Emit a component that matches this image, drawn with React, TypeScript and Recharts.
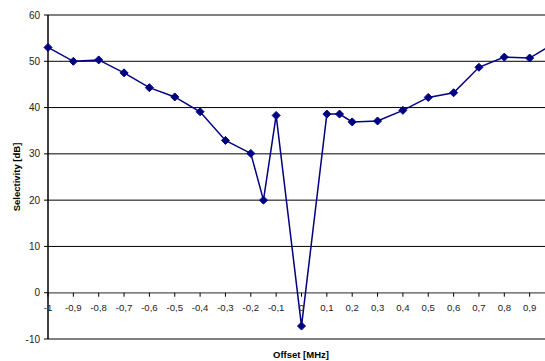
import {
  LineChart,
  Line,
  XAxis,
  YAxis,
  CartesianGrid,
  ReferenceLine,
} from "recharts";

const offsets = [
  -1, -0.9, -0.8, -0.7, -0.6, -0.5, -0.4, -0.3, -0.2, -0.15, -0.1, 0, 0.1, 0.15,
  0.2, 0.3, 0.4, 0.5, 0.6, 0.7, 0.8, 0.9, 1,
];
const selectivity = [
  53, 50, 50.3, 47.5, 44.3, 42.3, 39.1, 32.9, 30.1, 20, 38.3, -7.2, 38.6, 38.6,
  36.9, 37.1, 39.4, 42.2, 43.2, 48.7, 50.9, 50.7, 54,
];
const xTicks = [-1, -0.9, -0.8, -0.7, -0.6, -0.5, -0.4, -0.3, -0.2, -0.1, 0, 0.1, 0.2, 0.3, 0.4, 0.5, 0.6, 0.7, 0.8, 0.9];
const yTicks = [-10, 0, 10, 20, 30, 40, 50, 60];

const data = offsets.map((x, i) => ({ x, y: selectivity[i] }));

const W = 570;
const H = 361;
const X_AXIS_H = 20;
const M = { top: 15, right: 15, left: 0, bottom: 2 };
const Y_MIN = -10;
const Y_MAX = 60;
const plotH = H - M.top - M.bottom - X_AXIS_H;
const zeroY = M.top + (plotH * (Y_MAX - 0)) / (Y_MAX - Y_MIN);

const font = "'Liberation Sans', Arial, sans-serif";
const fmt = (v: number) => String(v).replace(".", ",");

// Excel puts the category axis on the 0 line, so ticks are drawn there
const XTick = (props: any) => {
  const { x, payload } = props;
  return (
    <g>
      <line x1={x} x2={x} y1={zeroY} y2={zeroY + 4} stroke="#000" strokeWidth={1} />
      <text
        x={x}
        y={zeroY + 18}
        textAnchor="middle"
        fontSize={9.6}
        fontFamily={font}
        fill="#222"
      >
        {fmt(payload.value)}
      </text>
    </g>
  );
};

const Diamond = (props: any) => {
  const { cx, cy } = props;
  if (cx == null || cy == null) return null;
  const r = 4;
  return (
    <path
      d={`M${cx},${cy - r} L${cx + r},${cy} L${cx},${cy + r} L${cx - r},${cy} Z`}
      fill="#000080"
      stroke="#000080"
    />
  );
};

export default function App() {
  return (
    <div
      style={{
        position: "absolute",
        left: 0,
        top: 0,
        width: 545,
        height: 361,
        overflow: "hidden",
        background: "#fff",
      }}
    >
      <LineChart width={W} height={H} data={data} margin={M}>
        <CartesianGrid vertical={false} stroke="#000" strokeWidth={1} />
        <XAxis
          dataKey="x"
          type="number"
          domain={[-1, 1]}
          ticks={xTicks}
          height={X_AXIS_H}
          axisLine={false}
          tickLine={false}
          tick={<XTick />}
          interval={0}
        />
        <YAxis
          type="number"
          domain={[Y_MIN, Y_MAX]}
          ticks={yTicks}
          width={48}
          axisLine={{ stroke: "#000", strokeWidth: 1.5 }}
          tickLine={{ stroke: "#000" }}
          tickSize={4}
          tickMargin={4}
          tick={{ fontSize: 10, fontFamily: font, fill: "#222" }}
          interval={0}
        />
        <ReferenceLine y={60} stroke="#808080" strokeWidth={1.5} />
        <ReferenceLine y={-10} stroke="#808080" strokeWidth={1.5} />
        <ReferenceLine y={0} stroke="#808080" strokeWidth={1.5} />
        <Line
          dataKey="y"
          type="linear"
          stroke="#000080"
          strokeWidth={1.5}
          dot={<Diamond />}
          activeDot={false}
          isAnimationActive={false}
        />
      </LineChart>
      <div
        style={{
          position: "absolute",
          left: 0,
          top: 0,
          width: 545,
          height: 361,
          pointerEvents: "none",
        }}
      >
        <svg width={545} height={361}>
          <text
            x={301}
            y={358}
            textAnchor="middle"
            fontSize={9.5}
            fontWeight="bold"
            fontFamily={font}
            fill="#000"
          >
            Offset [MHz]
          </text>
          <text
            transform="translate(20,177) rotate(-90)"
            textAnchor="middle"
            fontSize={9.5}
            fontWeight="bold"
            fontFamily={font}
            fill="#000"
          >
            Selectivity [dB]
          </text>
        </svg>
      </div>
    </div>
  );
}
